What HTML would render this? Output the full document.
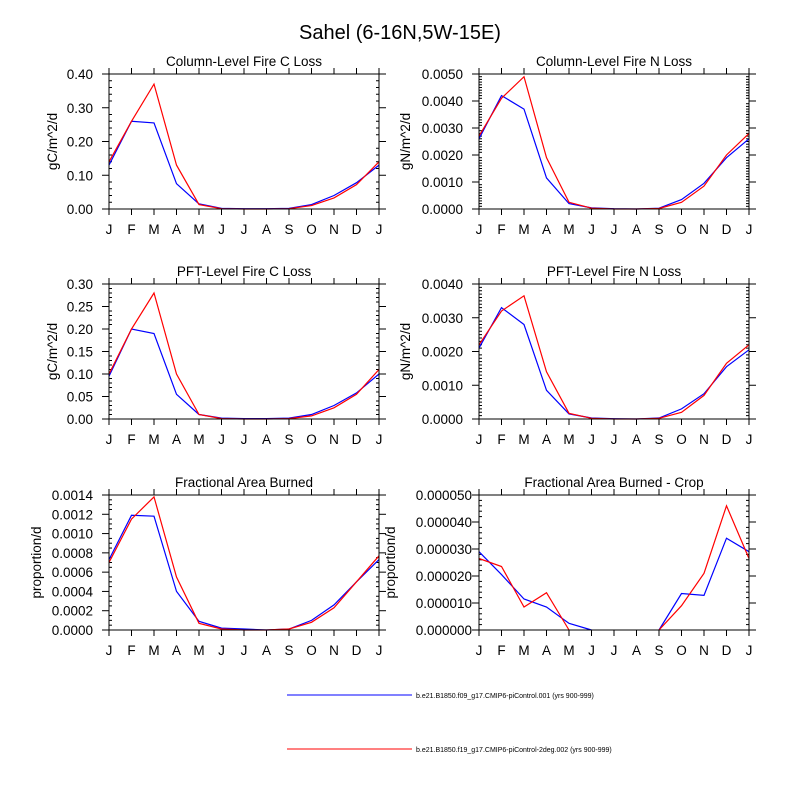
<!DOCTYPE html>
<html><head><meta charset="utf-8"><style>
body{margin:0;background:#fff}
svg text{font-family:"Liberation Sans",sans-serif;fill:#000}
</style></head><body>
<svg id="c" width="800" height="800" xmlns="http://www.w3.org/2000/svg">
<text x="400" y="39" font-size="20" text-anchor="middle">Sahel (6-16N,5W-15E)</text>
<g id="panels"></g>
<line x1="287" y1="695" x2="412" y2="695" stroke="#00f"/>
<text x="416" y="698" font-size="7">b.e21.B1850.f09_g17.CMIP6-piControl.001 (yrs 900-999)</text>
<line x1="287" y1="749" x2="412" y2="749" stroke="#f00"/>
<text x="416" y="752" font-size="7">b.e21.B1850.f19_g17.CMIP6-piControl-2deg.002 (yrs 900-999)</text>
</svg>
<script>
const months=["J","F","M","A","M","J","J","A","S","O","N","D","J"];
const titles=["Column-Level Fire C Loss","Column-Level Fire N Loss","PFT-Level Fire C Loss","PFT-Level Fire N Loss","Fractional Area Burned","Fractional Area Burned - Crop"];
const yTitles=["gC/m^2/d","gN/m^2/d","gC/m^2/d","gN/m^2/d","proportion/d","proportion/d"];
const yMax=[0.4,0.005,0.3,0.004,0.0014,0.00005];
const yStep=[0.1,0.001,0.05,0.001,0.0002,0.00001];
const yDec=[2,4,2,4,4,6];
const minorDiv=[5,10,5,10,4,5];
const blueC=[.13,.26,.255,.075,.015,.002,.001,.001,.002,.013,.04,.078,.13];
const redC=[.14,.26,.37,.13,.013,.001,0,0,.001,.01,.033,.072,.14];
const blueN=[.0026,.0042,.0037,.00115,.0002,.00004,.00001,0,.00003,.00035,.00095,.0019,.0026];
const redN=[.0027,.0041,.0049,.0019,.00025,.00003,0,0,.00002,.00025,.00085,.002,.0028];
const bluePC=[.095,.2,.19,.055,.01,.002,.001,.001,.002,.01,.03,.058,.1];
const redPC=[.1,.2,.28,.1,.01,.001,0,0,.001,.007,.025,.055,.11];
const bluePN=[.0021,.0033,.0028,.00085,.00015,.00003,.00001,0,.00003,.0003,.00075,.00155,.00205];
const redPN=[.0022,.0032,.00365,.0014,.00017,.00002,0,0,.00002,.0002,.0007,.00165,.0022];
const blueF=[.00073,.00119,.00118,.0004,.00009,.00002,.00001,0,.00001,.0001,.00026,.0005,.00073];
const redF=[.0007,.00115,.00138,.00055,.00007,.00001,0,0,.00001,.00008,.00023,.0005,.00077];
const blueCrop=[2.9e-5,2.05e-5,1.15e-5,0.85e-5,0.25e-5,0,null,null,0,1.35e-5,1.28e-5,3.4e-5,2.9e-5];
const redCrop=[2.65e-5,2.35e-5,0.85e-5,1.38e-5,0,null,null,null,0,0.9e-5,2.1e-5,4.6e-5,2.65e-5];
const blues=[blueC,blueN,bluePC,bluePN,blueF,blueCrop];
const reds=[redC,redN,redPC,redPN,redF,redCrop];
const NS="http://www.w3.org/2000/svg";
const root=document.getElementById("panels");
function mk(t,a,p){const e=document.createElementNS(NS,t);for(const k in a)e.setAttribute(k,a[k]);(p||root).appendChild(e);return e;}
const lefts=[109,479],tops=[74,284,495],W=270,H=135;
const yTitleOff=[57,74,57,74,73,89];
for(let i=0;i<6;i++){
  const L=lefts[i%2],T=tops[Math.floor(i/2)],B=T+H,R=L+W;
  const g=mk("g",{});
  
  
  const xs=k=>L+k*W/12, ys=v=>B-v/yMax[i]*H;
  const t=mk("text",{x:(L+R)/2,y:T-8,"font-size":13.5,"text-anchor":"middle"},g);t.textContent=titles[i];
  
  
  const labOff=i==5?7:16;
  const yt=mk("text",{transform:`translate(${L-yTitleOff[i]+5},${(T+B)/2}) rotate(-90)`,"font-size":13.5,"text-anchor":"middle"},g);yt.textContent=yTitles[i];
  
  
  const nMaj=Math.round(yMax[i]/yStep[i]),md=minorDiv[i];
  for(let j=0;j<=nMaj*md;j++){
    const v=j*yStep[i]/md,y=ys(v);
    if(j%md==0){
      mk("line",{x1:L-7,y1:y,x2:L,y2:y,stroke:"#000"},g);
      mk("line",{x1:R,y1:y,x2:R+7,y2:y,stroke:"#000"},g);
      const tl=mk("text",{x:L-labOff,y:y+5,"font-size":13.5,"text-anchor":"end"},g);tl.textContent=v.toFixed(yDec[i]);
      
      
    } else {
      mk("line",{x1:L,y1:y,x2:L+3,y2:y,stroke:"#000"},g);
      mk("line",{x1:R-3,y1:y,x2:R,y2:y,stroke:"#000"},g);
    }
  }
  for(let k=0;k<13;k++){
    const x=xs(k);
    mk("line",{x1:x,y1:B,x2:x,y2:B+6,stroke:"#000"},g);
    mk("line",{x1:x,y1:T-6,x2:x,y2:T,stroke:"#000"},g);
    const tl=mk("text",{x:x,y:B+25,"font-size":13.5,"text-anchor":"middle"},g);tl.textContent=months[k];
    
    
  }
  [[blues[i],"#00f","blue"],[reds[i],"#f00","red"]].forEach(([d,c,n])=>{
    let p="",pen=false;
    d.forEach((v,k)=>{if(v==null){pen=false;return;}p+=(pen?"L":"M")+xs(k).toFixed(1)+","+ys(v).toFixed(1);pen=true;});
    const l=mk("path",{d:p,fill:"none",stroke:c,"stroke-width":1.2},g);
    
    
  });
  mk("rect",{x:L,y:T,width:W,height:H,fill:"none",stroke:"#000"},g);
}
</script>
</body></html>
